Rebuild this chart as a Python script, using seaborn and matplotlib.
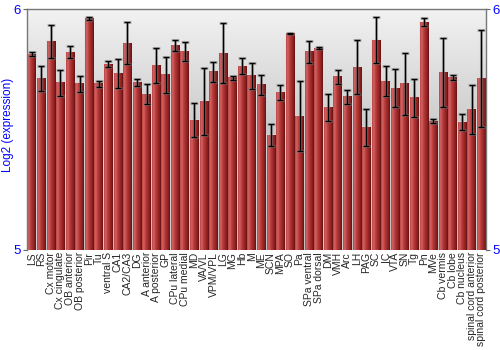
import numpy as np
import pandas as pd
import matplotlib
matplotlib.use("Agg")
import matplotlib.pyplot as plt
from matplotlib.colors import LinearSegmentedColormap
import seaborn as sns

regions = ["LS", "RS", "Cx motor", "Cx cingulate", "OB anterior", "OB posterior", "Pir", "Tu",
           "ventral S", "CA1", "CA2/CA3", "DG", "A anterior", "A posterior", "GP", "CPu lateral",
           "CPu medial", "MD", "VA/VL", "VPM/VPL", "LG", "MG", "Hb", "M", "ME", "SCN", "MPA", "SO",
           "Pa", "SPa ventral", "SPa dorsal", "DM", "VMH", "Arc", "LH", "PAG", "SC", "IC", "VTA",
           "SN", "Tg", "Pn", "MVe", "Cb vermis", "Cb lobe", "Cb nucleus", "spinal cord anterior",
           "spinal cord posterior"]
values = [5.813, 5.711, 5.866, 5.694, 5.820, 5.689, 5.961, 5.690, 5.771, 5.733, 5.858, 5.694,
          5.647, 5.766, 5.727, 5.848, 5.822, 5.538, 5.617, 5.739, 5.816, 5.715, 5.763, 5.723,
          5.685, 5.477, 5.654, 5.898, 5.556, 5.823, 5.837, 5.593, 5.718, 5.635, 5.759, 5.509,
          5.871, 5.701, 5.672, 5.690, 5.631, 5.946, 5.534, 5.737, 5.717, 5.531, 5.584, 5.711]
errors = [0.007, 0.053, 0.068, 0.053, 0.025, 0.035, 0.006, 0.012, 0.012, 0.060, 0.086, 0.015,
          0.042, 0.074, 0.075, 0.024, 0.039, 0.070, 0.139, 0.040, 0.124, 0.008, 0.033, 0.053,
          0.041, 0.044, 0.030, 0.003, 0.146, 0.045, 0.004, 0.056, 0.030, 0.030, 0.113, 0.077,
          0.095, 0.063, 0.078, 0.128, 0.078, 0.015, 0.009, 0.142, 0.010, 0.034, 0.102, 0.200]
y_ticks = [5, 6]

df = pd.DataFrame({"region": regions, "value": values, "err": errors})

sns.set_style("white")
plt.rcParams["font.family"] = ["Liberation Sans", "DejaVu Sans"]

fig = plt.figure(figsize=(5, 3.5), dpi=100)
ax = fig.add_axes([27 / 500, 100 / 350, 459 / 500, 241 / 350])

sns.barplot(data=df, x="region", y="value", ax=ax, color="#a03030", width=0.9,
            errorbar=None, zorder=2)
ax.set_ylim(5, 6)
ax.set_xlim(-0.5, len(regions) - 0.5)

bars = list(ax.patches)

# background gradient (light at top, darker toward the bottom)
bg = LinearSegmentedColormap.from_list("bg", ["#f2f2f2", "#a4a4a4"])
ax.imshow(np.linspace(0, 1, 256).reshape(-1, 1), cmap=bg, aspect="auto",
          extent=[0, 1, 0, 1], origin="upper", transform=ax.transAxes, zorder=0)

# bar gradients
barcmap = LinearSegmentedColormap.from_list(
    "bar", [(0.0, "#b84444"), (0.18, "#d26464"), (0.45, "#b63838"), (0.8, "#8e2222"), (1.0, "#641010")])
grad = np.linspace(0, 1, 64).reshape(1, -1)
ybot = ax.get_ylim()[0]
for p in bars:
    x0 = p.get_x()
    w = p.get_width()
    h = p.get_height()
    ax.add_patch(plt.Rectangle((x0 - 0.06, ybot), w + 0.12, h - ybot + 0.004,
                               facecolor="#dddddd", alpha=0.5, edgecolor="none", zorder=1.5))
    ax.imshow(grad, cmap=barcmap, aspect="auto", extent=[x0, x0 + w, ybot, h], zorder=2.5)
    p.set_visible(False)

ax.set_ylim(5, 6)
ax.set_xlim(-0.5, len(regions) - 0.5)

xs = [p.get_x() + p.get_width() / 2 for p in bars]
ax.errorbar(xs, df["value"], yerr=df["err"], fmt="none", ecolor="#888888", elinewidth=2.2,
            capsize=3, capthick=2.2, alpha=0.5, zorder=3)
ax.errorbar(xs, df["value"], yerr=df["err"], fmt="none", ecolor="black", elinewidth=1,
            capsize=2.5, capthick=1, zorder=4)

ax.set_yticks(y_ticks)
ax.set_yticklabels([str(t) for t in y_ticks], color="#0000ff", fontsize=9.5)
ax.tick_params(axis="y", which="both", left=True, right=True, labelleft=True, labelright=True,
               length=3, width=0.8, color="#666666", pad=1.5)
ax.tick_params(axis="x", length=0, pad=1.5, labelsize=7.5)
ax.set_xticks(range(len(regions)))
ax.set_xticklabels(regions, rotation=90)
ax.set_xlabel("")
ax.set_ylabel("Log2 (expression)", color="#0000ff", fontsize=8.5)
ax.yaxis.set_label_coords(-0.028, 0.52)

for s in ["top", "right", "left"]:
    ax.spines[s].set_visible(True)
    ax.spines[s].set_color("#777777")
    ax.spines[s].set_linewidth(1)
ax.spines["bottom"].set_visible(False)

fig.savefig("out.png", dpi=100)
